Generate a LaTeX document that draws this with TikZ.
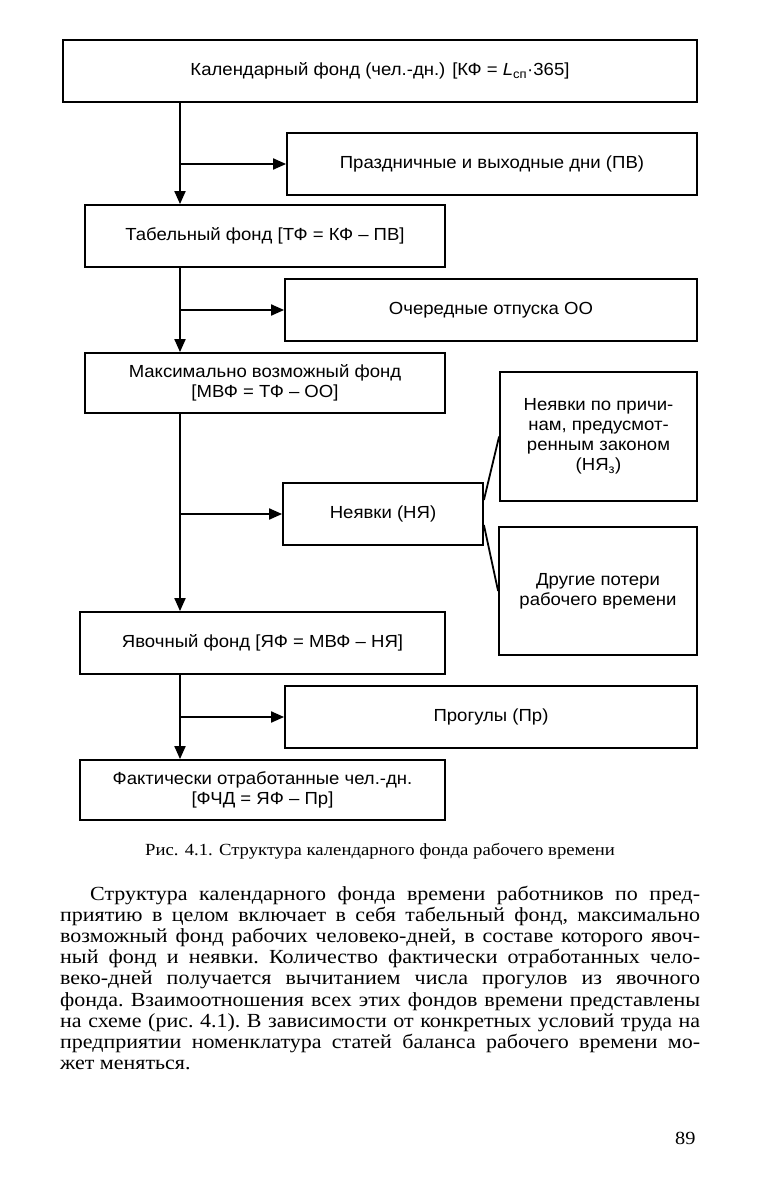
\documentclass[tikz,border=0pt]{standalone}
\usepackage{fontspec}
\setmainfont{Liberation Serif}[FakeStretch=1.1]
\newfontfamily\boxfont{Liberation Sans}[FakeStretch=1.06]
\usetikzlibrary{positioning, arrows.meta}

\begin{document}
\begin{tikzpicture}[x=1pt, y=-1pt,
		blk/.style 2 args={
			draw,
			line width=1.8pt,
			minimum width=#1,
			minimum height=#2,
			inner sep=2pt,
			align=center,
			font=\boxfont\fontsize{17.5}{20}\selectfont},
		arr/.style={line width=1.9pt, -{Triangle[length=13pt, width=11pt]}},
		lnk/.style={line width=1.8pt}
		]
		\useasboundingbox (0,0) rectangle (766,1182);
		\fill[white] (0,0) rectangle (766,1182);
		\coordinate (sp) at (180,0);
		\node[blk={634pt}{62pt}] (kf) at (380,71) {Календарный фонд (чел.-дн.) [КФ = {\itshape L}\textsubscript{сп}·365]};
		\node[blk={410pt}{62pt}] (pv) at (492,164) {Праздничные и выходные дни (ПВ)};
		\node[blk={360pt}{62pt}] (tf) at (265,236) {Табельный фонд [ТФ = КФ – ПВ]};
		\node[blk={412pt}{62pt}] (oo) at (491,310) {Очередные отпуска ОО};
		\node[blk={360pt}{60pt}] (mvf) at (265,383) {Максимально возможный фонд\\{[}МВФ = ТФ – ОО{]}};
		\node[blk={197pt}{129pt}] (nyz) at (598.5,436.5) {Неявки по причи-\\нам, предусмот-\\ренным законом\\(НЯ\textsubscript{з})};
		\node[blk={200pt}{62pt}] (nya) at (383,514) {Неявки (НЯ)};
		\node[blk={198pt}{128pt}] (oth) at (598,591) {Другие потери\\рабочего времени};
		\node[blk={365pt}{62pt}] (yaf) at (262.5,643) {Явочный фонд [ЯФ = МВФ – НЯ]};
		\node[blk={412pt}{62pt}] (pr) at (491,717) {Прогулы (Пр)};
		\node[blk={365pt}{60pt}] (fchd) at (262.5,790) {Фактически отработанные чел.-дн.\\{[}ФЧД = ЯФ – Пр{]}};
		% spine and branches
		\draw[arr] (kf.south -| sp) -- (tf.north -| sp);
		\draw[arr] (pv.west -| sp) -- (pv.west);
		\draw[arr] (tf.south -| sp) -- (mvf.north -| sp);
		\draw[arr] (oo.west -| sp) -- (oo.west);
		\draw[arr] (mvf.south -| sp) -- (yaf.north -| sp);
		\draw[arr] (nya.west -| sp) -- (nya.west);
		\draw[arr] (yaf.south -| sp) -- (fchd.north -| sp);
		\draw[arr] (pr.west -| sp) -- (pr.west);
		\draw[lnk] ([yshift=14pt]nya.east) -- (nyz.west);
		\draw[lnk] ([yshift=-11pt]nya.east) -- (oth.west);
		% caption and text
		\node[font=\fontsize{17}{20}\selectfont] (cap) at (380,851) {Рис. 4.1. Структура календарного фонда рабочего времени};
		\node[anchor=north west, text width=640pt, inner sep=0pt, align=justify,
			font=\fontsize{20}{21.1}\selectfont] (txt) at (60,886) {\frenchspacing\tolerance=9999\hspace*{30pt}Структура календарного фонда времени работников по пред-\linebreak
			приятию в целом включает в себя табельный фонд, максимально\linebreak
			возможный фонд рабочих человеко-дней, в составе которого явоч-\linebreak
			ный фонд и неявки. Количество фактически отработанных чело-\linebreak
			веко-дней получается вычитанием числа прогулов из явочного\linebreak
			фонда. Взаимоотношения всех этих фондов времени представлены\linebreak
			на схеме (рис. 4.1). В зависимости от конкретных условий труда на\linebreak
			предприятии номенклатура статей баланса рабочего времени мо-\linebreak
			жет меняться.};
		\node[anchor=east, font=\fontsize{18.5}{20}\selectfont] (pg) at (699,1138) {89};
		\end{tikzpicture}
\end{document}
